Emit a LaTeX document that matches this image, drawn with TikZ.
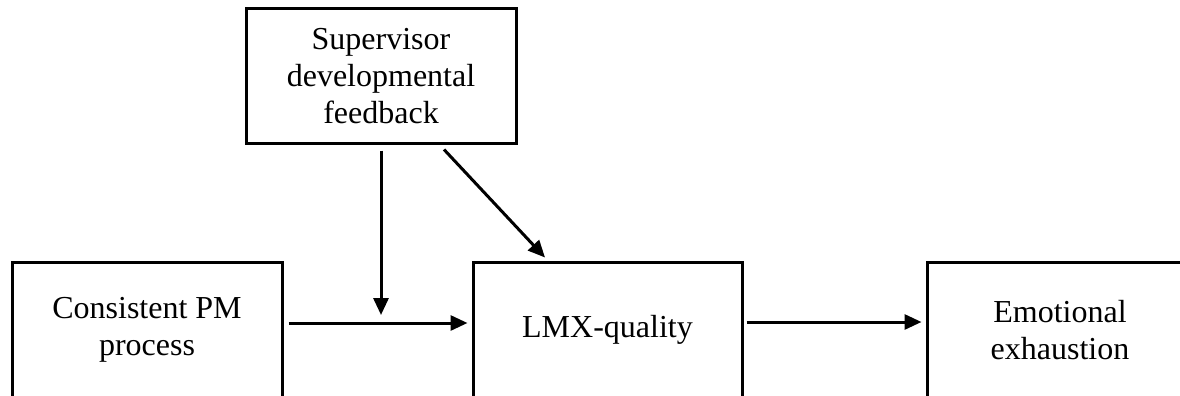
\documentclass[tikz,border=0pt]{standalone}
\usepackage{fontspec}
\setmainfont{Liberation Serif}
\usetikzlibrary{arrows.meta}
\begin{document}
\begin{tikzpicture}[x=1pt,y=-1pt,
  box/.style={draw, line width=3pt, minimum width=270pt, minimum height=136pt,
    align=center, inner sep=0pt, font=\fontsize{32}{37}\selectfont},
  arr/.style={line width=3pt, -{Triangle[length=17pt,width=15pt]}}]
\useasboundingbox (0,0) rectangle (1180,396);
\clip (0,0) rectangle (1180,396);
\fill[white] (0,0) rectangle (1180,396);
\node[box] (pm) at (147,330) {Consistent PM\\process};
\node[box, minimum width=269pt] (lmx) at (607.5,330) {LMX-quality};
\node[box, minimum width=266pt] (ee) at (1060,330) {Emotional\\exhaustion};
\node[box, minimum height=134pt] (sup) at (381,76) {Supervisor\\developmental\\feedback};
\coordinate (mod) at (381,315);
\draw[arr] ([xshift=5pt,yshift=7pt]pm.east) -- ([xshift=-4pt,yshift=7pt]lmx.west);
\draw[arr] ([xshift=3pt,yshift=8pt]lmx.east) -- ([xshift=-4pt,yshift=8pt]ee.west);
\draw[arr] ([yshift=-6pt]sup.south) -- (mod);
\draw[arr] ([xshift=63pt,yshift=-5pt]sup.south) -- ([xshift=-62.5pt,yshift=3pt]lmx.north);
\end{tikzpicture}
\end{document}
